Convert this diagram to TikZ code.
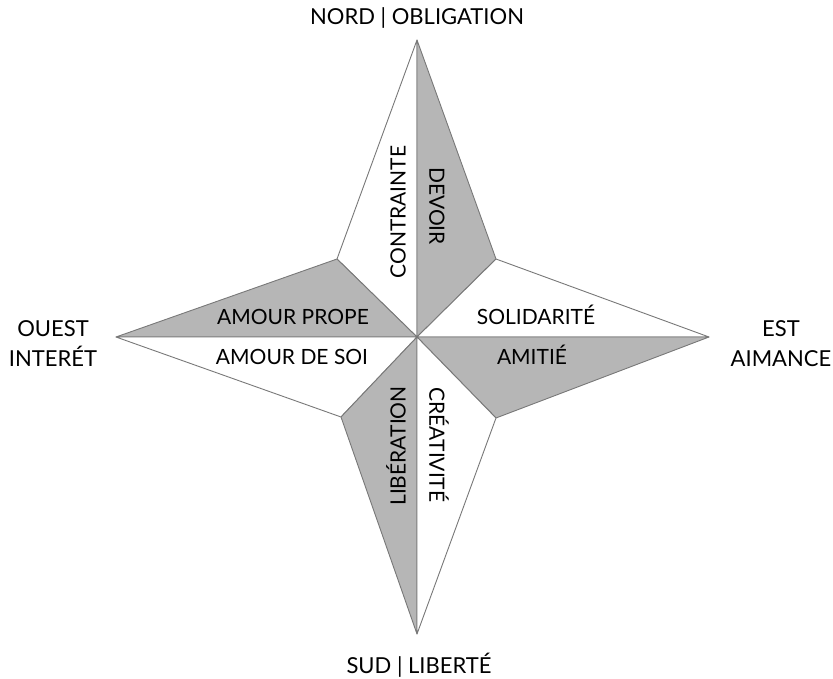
\documentclass[tikz,border=0pt]{standalone}
\usepackage{fontspec}
\setmainfont{Lato}
\definecolor{fillgray}{RGB}{182,182,182}
\definecolor{edgegray}{RGB}{120,120,120}
\begin{document}
\begin{tikzpicture}[x=1pt,y=-1pt,
  sector/.style={draw=edgegray,line width=0.9pt,line join=round},
  graysec/.style={sector,fill=fillgray},
  whitesec/.style={sector,fill=white},
  lbl/.style={font=\fontsize{21}{30}\selectfont,text height=15.1pt,text depth=0pt,inner sep=0pt,align=center},
  outer/.style={font=\fontsize{22}{30}\selectfont,inner sep=0pt,align=center}]
\useasboundingbox (0,0) rectangle (833,679);
\coordinate (C) at (417,337);
\coordinate (N) at (417,40);
\coordinate (S) at (417,634);
\coordinate (W) at (116,337);
\coordinate (E) at (709,337);
\coordinate (NW) at (337,259);
\coordinate (NE) at (496,259);
\coordinate (SW) at (341,417);
\coordinate (SE) at (496,418);
% sectors
\path[whitesec] (C) -- (N) -- (NW) -- cycle;
\path[graysec] (C) -- (N) -- (NE) -- cycle;
\path[graysec] (C) -- (W) -- (NW) -- cycle;
\path[whitesec] (C) -- (W) -- (SW) -- cycle;
\path[whitesec] (C) -- (E) -- (NE) -- cycle;
\path[graysec] (C) -- (E) -- (SE) -- cycle;
\path[graysec] (C) -- (S) -- (SW) -- cycle;
\path[whitesec] (C) -- (S) -- (SE) -- cycle;
% inner labels
\node[lbl,rotate=90] (contrainte) at (398,212) {CONTRAINTE};
\node[lbl,rotate=-90] (devoir) at (437,206) {DEVOIR};
\node[lbl] (amourpropre) at (293,317) {AMOUR PROPE};
\node[lbl] (amoursoi) at (292,357) {AMOUR DE SOI};
\node[lbl] (solidarite) at (536,317) {SOLIDARITÉ};
\node[lbl] (amitie) at (532,357) {AMITIÉ};
\node[lbl,rotate=90] (liberation) at (398,446) {LIBÉRATION};
\node[lbl,rotate=-90] (creativite) at (437,445) {CRÉATIVITÉ};
% outer labels
\node[outer] (nord) at (417,18) {NORD | OBLIGATION};
\node[outer] (sud) at (419,665) {SUD | LIBERTÉ};
\node[outer] (ouest) at (53,344) {OUEST\\INTERÉT};
\node[outer] (est) at (781,344) {EST\\AIMANCE};
\end{tikzpicture}
\end{document}
